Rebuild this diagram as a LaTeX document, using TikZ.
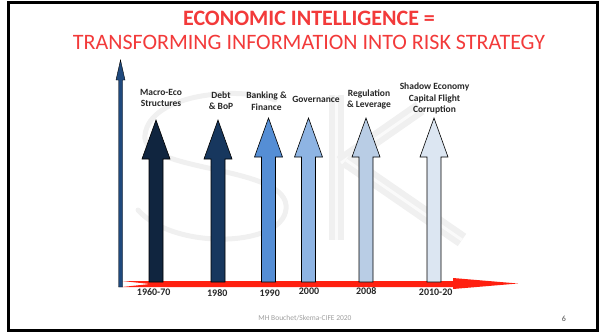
\documentclass[tikz,border=0pt]{standalone}
\usepackage{fontspec}
\setmainfont{Carlito}
\usetikzlibrary{calc}

\definecolor{titlered}{RGB}{242,58,58}
\definecolor{timered}{RGB}{255,32,16}
\definecolor{axisblue}{RGB}{31,73,125}
\definecolor{arrowA}{RGB}{16,37,63}
\definecolor{arrowB}{RGB}{23,55,94}
\definecolor{arrowC}{RGB}{85,142,213}
\definecolor{arrowD}{RGB}{142,180,227}
\definecolor{arrowE}{RGB}{185,205,229}
\definecolor{arrowF}{RGB}{220,230,242}

\begin{document}
\begin{tikzpicture}[x=1pt,y=-1pt,
  blockarrow/.style={draw=black,line width=.6pt,line join=miter},
  theme/.style={font=\fontsize{9.5}{11.5}\selectfont\bfseries,align=center,text=black!85},
  year/.style={font=\fontsize{10}{12}\selectfont\bfseries,text=black!85},
  watermark/.style={line width=5pt,black!6,line cap=round},
  watermarkbar/.style={line width=6pt,black!6,double=black!2,double distance=3pt}]
\useasboundingbox (0,0) rectangle (603,333);
% Slide frame
\draw [line width=3pt] (8.5,2.5) rectangle (597.5,330.5);
% Title
\node (title) at (309,18) {\fontsize{22}{24}\selectfont\bfseries\color{titlered}ECONOMIC INTELLIGENCE =};
\node (subtitle) at (309,42) {\fontsize{22}{24}\selectfont\color{titlered}TRANSFORMING INFORMATION INTO RISK STRATEGY};
% Watermark letters in the background
\draw [watermark] (275,100) .. controls (240,86) and (150,93) .. (145,135)
  .. controls (140,172) and (282,165) .. (286,205)
  .. controls (290,247) and (175,252) .. (138,210);
\draw [watermarkbar] (336,95) -- (336,240);
\draw [watermarkbar] (341,163) -- (420,108);
\draw [watermarkbar] (346,160) -- (462,240);
% Red time axis with a notched tail
\coordinate (tail) at (122,284);
\coordinate (tip) at (518,283.5);
\fill [timered] (tail) ++(0,-3) -- (453,281) -- (453,278) -- (tip) -- (453,289)
  -- (453,287) -- (122,287) -- (150,284) -- cycle;
% Thin vertical axis
\draw [fill=axisblue,line width=.4pt] (118.5,287) -- (118.5,80) -- (116,80) -- (120.5,60)
  -- (125,80) -- (122.5,80) -- (122.5,287) -- cycle;
% Block arrows, darkest first
\draw [blockarrow,fill=arrowA] (149,282) -- (149,159) -- (142,159) -- (156,120) -- (170,159) -- (163,159) -- (163,282) -- cycle;
\draw [blockarrow,fill=arrowB] (211,282) -- (211,159) -- (204,159) -- (218,120) -- (232,159) -- (225,159) -- (225,282) -- cycle;
\draw [blockarrow,fill=arrowC] (261.5,282) -- (261.5,157) -- (254.5,157) -- (268.5,118) -- (282.5,157) -- (275.5,157) -- (275.5,282) -- cycle;
\draw [blockarrow,fill=arrowD] (301.5,282) -- (301.5,157) -- (294.5,157) -- (308.5,118) -- (322.5,157) -- (315.5,157) -- (315.5,282) -- cycle;
\draw [blockarrow,fill=arrowE] (359,282) -- (359,157) -- (352,157) -- (366,118) -- (380,157) -- (373,157) -- (373,282) -- cycle;
\draw [blockarrow,fill=arrowF] (427,282) -- (427,157) -- (420,157) -- (434,118) -- (448,157) -- (441,157) -- (441,282) -- cycle;
% Themes above the arrows
\node [theme] (macro) at (161,98) {Macro-Eco\\Structures};
\node [theme] (debt) at (221,100.5) {Debt\\\& BoP};
\node [theme] (bank) at (266.5,101) {Banking \&\\Finance};
\node [theme] (gov) at (316,99.5) {Governance};
\node [theme] (reg) at (369,99.5) {Regulation\\\& Leverage};
\node [theme] (shadow) at (434.5,98.5) {Shadow Economy\\Capital Flight\\Corruption};
% Dates under the time axis
\node [year] (y1) at (153.7,292) {1960-70};
\node [year] (y2) at (217.3,293.5) {1980};
\node [year] (y3) at (269.7,293.5) {1990};
\node [year] (y4) at (309,291) {2000};
\node [year] (y5) at (366.3,291) {2008};
\node [year] (y6) at (435.7,292) {2010-20};
% Footer
\node [font=\fontsize{7.5}{9}\selectfont,text=black!38] (footer) at (305,318.5) {MH Bouchet/Skema-CIFE 2020};
\node [font=\fontsize{8}{9}\selectfont,text=black!70] (page) at (564,318.5) {6};
\end{tikzpicture}
\end{document}
